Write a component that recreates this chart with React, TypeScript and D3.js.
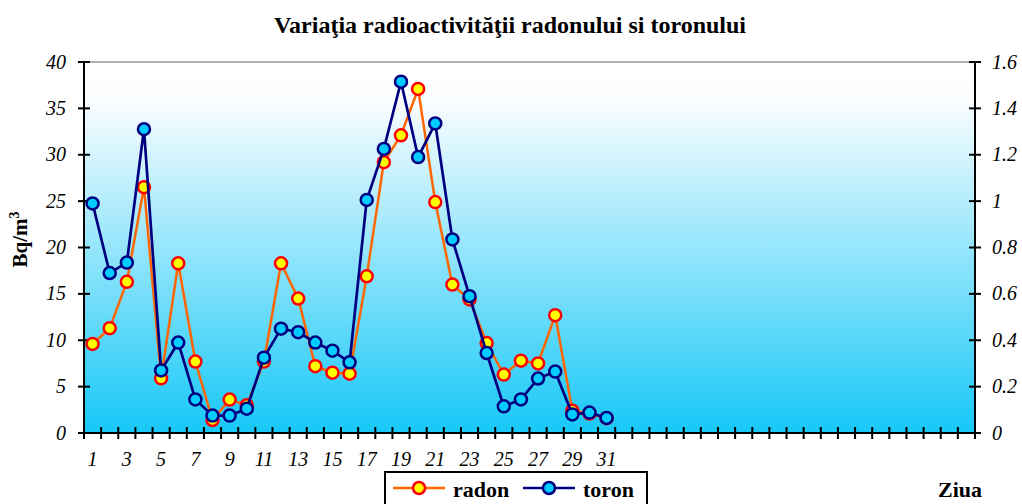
import React from 'react';
import * as d3 from 'd3';

const days = d3.range(1, 53); // 52 category slots, only 1..31 labelled
const labelDays = [1, 3, 5, 7, 9, 11, 13, 15, 17, 19, 21, 23, 25, 27, 29, 31];

const radon = [9.6, 11.3, 16.3, 26.5, 5.9, 18.3, 7.7, 1.4, 3.6, 3.0, 7.7, 18.3, 14.5, 7.2, 6.5, 6.4,
  16.9, 29.2, 32.1, 37.1, 24.9, 16.0, 14.4, 9.7, 6.3, 7.8, 7.5, 12.7, 2.4, 2.1, 1.6];
const toron = [0.99, 0.69, 0.735, 1.31, 0.27, 0.39, 0.145, 0.075, 0.075, 0.105, 0.325, 0.45, 0.435, 0.39,
  0.355, 0.305, 1.005, 1.225, 1.515, 1.19, 1.335, 0.835, 0.59, 0.345, 0.115, 0.145, 0.235, 0.265, 0.08,
  0.088, 0.065];

const leftTicks = [0, 5, 10, 15, 20, 25, 30, 35, 40];
const rightTicks = [0, 0.2, 0.4, 0.6, 0.8, 1, 1.2, 1.4, 1.6];

const W = 1022, H = 504;
const left = 84, right = 975, top = 62, bottom = 433;
const serif = '"Liberation Serif", "Times New Roman", serif';
const R = 6;

export default function App() {
  const x = d3.scaleBand<number>().domain(days).range([left, right]);
  const yL = d3.scaleLinear().domain([0, 40]).range([bottom, top]);
  const yR = d3.scaleLinear().domain([0, 1.6]).range([bottom, top]);
  const cx = (i: number) => (x(i + 1) as number) + x.bandwidth() / 2;

  const radonLine = d3.line<number>().x((_, i) => cx(i)).y(d => yL(d))(radon) || '';
  const toronLine = d3.line<number>().x((_, i) => cx(i)).y(d => yR(d))(toron) || '';

  const boundaries = d3.range(0, days.length + 1).map(i => left + i * x.bandwidth());

  return (
    <svg width={W} height={H} style={{ position: 'absolute', left: 0, top: 0 }} fontFamily={serif}>
      <defs>
        <linearGradient id="bg" x1="0" y1="0" x2="0" y2="1">
          <stop offset="0" stopColor="#ffffff" />
          <stop offset="0.1" stopColor="#fbfdff" />
          <stop offset="1" stopColor="#17c8f7" />
        </linearGradient>
      </defs>
      <rect x={0} y={0} width={W} height={H} fill="#fff" />
      <rect x={left} y={top} width={right - left} height={bottom - top} fill="url(#bg)" />
      <line x1={left} x2={right} y1={top} y2={top} stroke="#999" strokeWidth={1.5} />

      <text x={510} y={33} textAnchor="middle" fontWeight="bold" fontSize={24}>
        Variaţia radioactivităţii radonului si toronului
      </text>

      {/* left axis */}
      <line x1={left} x2={left} y1={top} y2={bottom} stroke="#000" strokeWidth={2} />
      {leftTicks.map(t => (
        <g key={'l' + t}>
          <line x1={left - 6} x2={left + 6} y1={yL(t)} y2={yL(t)} stroke="#000" strokeWidth={2} />
          <text x={66} y={yL(t) + 6.5} textAnchor="end" fontStyle="italic" fontSize={20}>{t}</text>
        </g>
      ))}
      <text transform={`translate(27,${(top + bottom) / 2 - 8}) rotate(-90)`} textAnchor="middle"
        fontWeight="bold" fontSize={21}>
        Bq/m<tspan fontSize={14} dy={-8}>3</tspan>
      </text>

      {/* right axis */}
      <line x1={right} x2={right} y1={top} y2={bottom} stroke="#000" strokeWidth={2} />
      {rightTicks.map(t => (
        <g key={'r' + t}>
          <line x1={right - 6} x2={right + 6} y1={yR(t)} y2={yR(t)} stroke="#000" strokeWidth={2} />
          <text x={992} y={yR(t) + 6.5} fontStyle="italic" fontSize={20}>{t}</text>
        </g>
      ))}

      {/* x axis */}
      <line x1={left} x2={right} y1={bottom} y2={bottom} stroke="#000" strokeWidth={2} />
      {boundaries.map((b, i) => (
        <line key={'t' + i} x1={b} x2={b} y1={bottom - 6} y2={bottom + 6} stroke="#000" strokeWidth={2} />
      ))}
      {labelDays.map(d => (
        <text key={'x' + d} x={(x(d) as number) + x.bandwidth() / 2} y={466} textAnchor="middle"
          fontStyle="italic" fontSize={20}>{d}</text>
      ))}
      <text x={960} y={497} textAnchor="middle" fontWeight="bold" fontSize={22}>Ziua</text>

      {/* series */}
      <path d={radonLine} fill="none" stroke="#ff6600" strokeWidth={2.5} />
      {radon.map((v, i) => (
        <circle key={'rp' + i} cx={cx(i)} cy={yL(v)} r={R} fill="#ffff00" stroke="#ff0000" strokeWidth={2.5} />
      ))}
      <path d={toronLine} fill="none" stroke="#000080" strokeWidth={2.7} />
      {toron.map((v, i) => (
        <circle key={'tp' + i} cx={cx(i)} cy={yR(v)} r={R} fill="#00ccff" stroke="#000080" strokeWidth={2.5} />
      ))}

      {/* legend */}
      <rect x={385} y={472} width={262} height={40} fill="#fff" stroke="#000" strokeWidth={2} />
      <line x1={393} x2={445} y1={488} y2={488} stroke="#ff6600" strokeWidth={2.5} />
      <circle cx={419} cy={488} r={R} fill="#ffff00" stroke="#ff0000" strokeWidth={2.5} />
      <text x={453} y={497} fontWeight="bold" fontSize={22}>radon</text>
      <line x1={523} x2={575} y1={488} y2={488} stroke="#000080" strokeWidth={2.7} />
      <circle cx={549} cy={488} r={R} fill="#00ccff" stroke="#000080" strokeWidth={2.5} />
      <text x={583} y={497} fontWeight="bold" fontSize={22}>toron</text>
    </svg>
  );
}
